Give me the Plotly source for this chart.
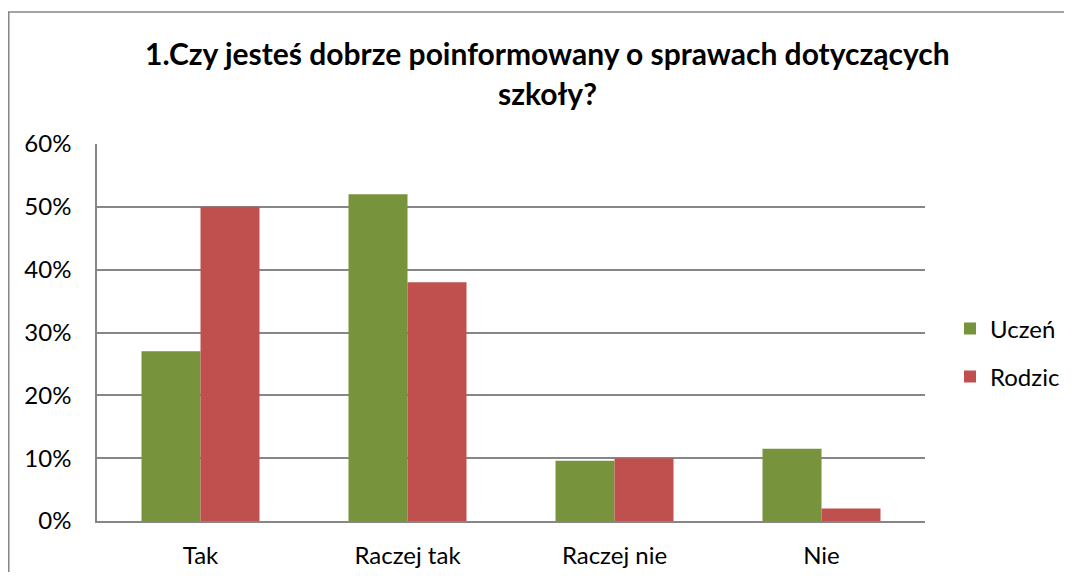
import plotly.graph_objects as go

categories = ["Tak", "Raczej tak", "Raczej nie", "Nie"]
uczen = [0.27, 0.52, 0.096, 0.115]
rodzic = [0.50, 0.38, 0.10, 0.02]
y_ticks = [0, 0.1, 0.2, 0.3, 0.4, 0.5, 0.6]
y_labels = ["0%", "10%", "20%", "30%", "40%", "50%", "60%"]
title_lines = ["1.Czy jesteś dobrze poinformowany o sprawach dotyczących", "szkoły?"]

FONT = "Lato, 'Open Sans', sans-serif"
OFF = 8  # page body margin
W, H = 1072 - 2 * OFF, 580 - 2 * OFF
# target screen positions of plot area
SL, SR, ST, SB = 97, 925, 144, 521
L, T = SL - OFF, ST - OFF
R, B = W - (SR - OFF), H - (SB - OFF)
pw, ph = W - L - R, H - T - B

def px(xs):
    return (xs - OFF - L) / pw

def py(ys):
    return (H - B - (ys - OFF)) / ph

fig = go.Figure()
fig.add_trace(go.Bar(x=categories, y=uczen, name="Uczeń", marker_color="#77933C",
                     marker_line_width=0, legend="legend", showlegend=True))
fig.add_trace(go.Bar(x=categories, y=rodzic, name="Rodzic", marker_color="#C0504D",
                     marker_line_width=0, legend="legend2", showlegend=True))

fig.update_layout(
    template="none",
    width=W, height=H,
    margin=dict(l=L, r=R, t=T, b=B, autoexpand=False),
    paper_bgcolor="white", plot_bgcolor="white",
    bargap=0.43, bargroupgap=0,
    showlegend=True,
    font=dict(family=FONT, size=24, color="black"),
    legend=dict(x=px(950), y=py(329), xanchor="left", yanchor="middle",
                font=dict(size=24), bgcolor="rgba(0,0,0,0)", itemwidth=30, visible=True),
    legend2=dict(x=px(950), y=py(377), xanchor="left", yanchor="middle",
                 font=dict(size=24), bgcolor="rgba(0,0,0,0)", itemwidth=30, visible=True),
    xaxis=dict(showline=True, linecolor="#868686", linewidth=1.5, showgrid=False,
               ticks="", ticklabelstandoff=12, tickfont=dict(size=24), automargin=False),
    yaxis=dict(range=[0, 0.6], tickvals=y_ticks, ticktext=y_labels,
               showgrid=True, gridcolor="#868686", gridwidth=1.5,
               showline=True, linecolor="#868686", linewidth=1.5,
               ticks="", ticklabelstandoff=19, tickfont=dict(size=24), zeroline=False,
               automargin=False),
    shapes=[dict(type="rect", xref="paper", yref="paper",
                 x0=px(8.75), x1=px(1140), y0=py(640), y1=py(12),
                 line=dict(color="#868686", width=1.5), fillcolor="rgba(0,0,0,0)", layer="below")],
    annotations=[
        dict(text="<b>" + title_lines[0] + "</b>", xref="paper", yref="paper",
             x=px(547), y=py(53), showarrow=False, xanchor="center", yanchor="middle",
             font=dict(size=30, family=FONT)),
        dict(text="<b>" + title_lines[1] + "</b>", xref="paper", yref="paper",
             x=px(547), y=py(93), showarrow=False, xanchor="center", yanchor="middle",
             font=dict(size=30, family=FONT)),
    ],
)

fig.write_html("out.html")
